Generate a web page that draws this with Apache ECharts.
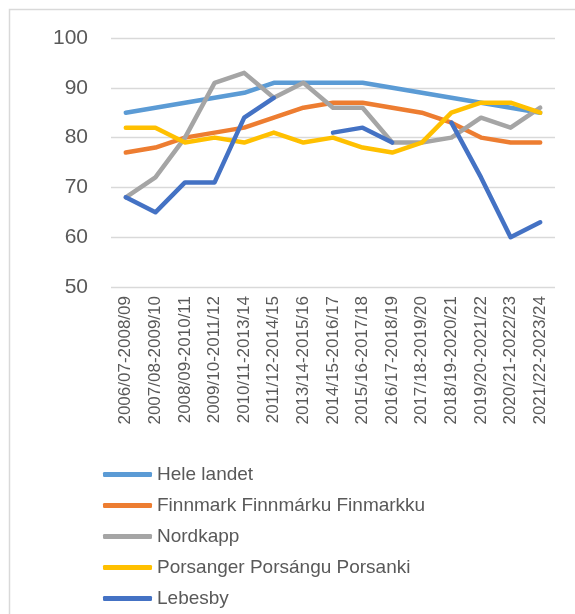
<!DOCTYPE html>
<html>
<head>
<meta charset="utf-8">
<script src="https://cdn.jsdelivr.net/npm/echarts@6/dist/echarts.min.js"></script>
<style>
  html, body { margin: 0; padding: 0; background: #ffffff; }
  #chart { width: 575px; height: 614px; }
</style>
</head>
<body>
<div id="chart"></div>
<script>
// School-year periods (three-year spans)
const categories = [
  '2006/07-2008/09', '2007/08-2009/10', '2008/09-2010/11', '2009/10-2011/12',
  '2010/11-2013/14', '2011/12-2014/15', '2013/14-2015/16', '2014/15-2016/17',
  '2015/16-2017/18', '2016/17-2018/19', '2017/18-2019/20', '2018/19-2020/21',
  '2019/20-2021/22', '2020/21-2022/23', '2021/22-2023/24'
];

const heleLandet = [85, 86, 87, 88, 89, 91, 91, 91, 91, 90, 89, 88, 87, 86, 85];
const finnmark   = [77, 78, 80, 81, 82, 84, 86, 87, 87, 86, 85, 83, 80, 79, 79];
const nordkapp   = [68, 72, 80, 91, 93, 88, 91, 86, 86, 79, 79, 80, 84, 82, 86];
const porsanger  = [82, 82, 79, 80, 79, 81, 79, 80, 78, 77, 79, 85, 87, 87, 85];
const lebesby    = [68, 65, 71, 71, 84, 88, null, 81, 82, 79, null, 83, 72, 60, 63];

const yTicks = { min: 50, max: 100, interval: 10 };

const seriesDefs = [
  { name: 'Hele landet', data: heleLandet, color: '#5B9BD5' },
  { name: 'Finnmark Finnmárku Finmarkku', data: finnmark, color: '#ED7D31' },
  { name: 'Nordkapp', data: nordkapp, color: '#A5A5A5' },
  { name: 'Porsanger Porsángu Porsanki', data: porsanger, color: '#FFC000' },
  { name: 'Lebesby', data: lebesby, color: '#4472C4' }
];

const textColor = '#595959';
const fontFamily = '"Liberation Sans", Arial, sans-serif';

const chart = echarts.init(document.getElementById('chart'), null, { renderer: 'canvas' });

chart.setOption({
  animation: false,
  backgroundColor: '#ffffff',
  textStyle: { fontFamily: fontFamily },
  graphic: [{
    type: 'rect',
    left: 7, top: 7,
    shape: { width: 620, height: 640 },
    style: { fill: 'none', stroke: '#d9d9d9', lineWidth: 1.5 },
    silent: true
  }],
  grid: { left: 111, right: 20, top: 38, height: 249, containLabel: false },
  legend: {
    orient: 'vertical',
    left: 103,
    top: 465,
    height: 300,
    padding: 0,
    icon: 'roundRect',
    itemWidth: 49,
    itemHeight: 5,
    itemGap: 12,
    textStyle: { color: textColor, fontSize: 19, lineHeight: 19, fontFamily: fontFamily },
    data: seriesDefs.map(s => s.name)
  },
  xAxis: {
    type: 'category',
    data: categories,
    boundaryGap: true,
    axisLine: { show: false },
    axisTick: { show: false },
    axisLabel: {
      rotate: 90,
      interval: 0,
      margin: 9,
      color: textColor,
      fontSize: 17,
      fontFamily: fontFamily
    }
  },
  yAxis: {
    type: 'value',
    min: yTicks.min,
    max: yTicks.max,
    interval: yTicks.interval,
    axisLine: { show: false },
    axisTick: { show: false },
    axisLabel: { margin: 23, color: textColor, fontSize: 21, fontFamily: fontFamily },
    splitLine: { lineStyle: { color: '#d9d9d9', width: 1.3 } }
  },
  series: seriesDefs.map(s => ({
    name: s.name,
    type: 'line',
    data: s.data,
    symbol: 'none',
    connectNulls: false,
    color: s.color,
    lineStyle: { color: s.color, width: 4.5, cap: 'round', join: 'round' },
    itemStyle: { color: s.color }
  }))
});
</script>
</body>
</html>
